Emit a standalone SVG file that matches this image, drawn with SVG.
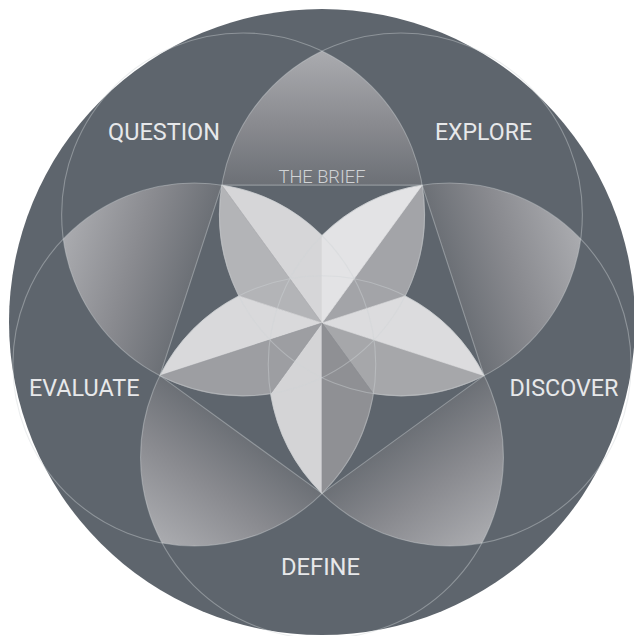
<svg xmlns="http://www.w3.org/2000/svg" width="634" height="636" viewBox="0 0 634 636">
  <defs>
    <style>
      .bg { fill: #5e656d; }
      .lens { fill: url(#lensGrad); }
      .thin { fill: none; stroke: #cfd3d7; stroke-opacity: 0.42; stroke-width: 1.1; }
      .face { stroke-width: 0.6; stroke-linejoin: round; }
      .label { font-family: Roboto, "Liberation Sans", sans-serif; font-size: 24px; font-weight: 400; fill: #e7e8ea; }
      .brief { font-family: Roboto, "Liberation Sans", sans-serif; font-size: 18px; font-weight: 300; fill: #d0d2d5; }
    </style>
    <linearGradient id="lensGrad" x1="0" y1="0" x2="0" y2="1">
      <stop offset="0" stop-color="#aaabaf"/>
      <stop offset="0.55" stop-color="#898a8f"/>
      <stop offset="1" stop-color="#6c7076"/>
    </linearGradient>
    <path id="lensTop" d="M 221.84 185.14 A 181.45 181.45 0 0 1 322 51 A 181.45 181.45 0 0 1 422.16 185.14 Z"/>
    <path id="faceCW" d="M 221.84 185.14 A 181.45 181.45 0 0 1 322 235.6 L 322 323 Z"/>
    <path id="faceCCW" d="M 221.84 185.14 A 181.45 181.45 0 0 0 238.88 295.99 L 322 323 Z"/>
  </defs>

  <g id="outer">
    <circle class="bg" cx="322" cy="322" r="313"/>
  </g>

  <g id="lenses">
    <use href="#lensTop" class="lens"/>
    <use href="#lensTop" class="lens" transform="rotate(72 322 323)"/>
    <use href="#lensTop" class="lens" transform="rotate(144 322 323)"/>
    <use href="#lensTop" class="lens" transform="rotate(216 322 323)"/>
    <use href="#lensTop" class="lens" transform="rotate(288 322 323)"/>
  </g>

  <g id="the-brief-star">
    <use href="#faceCW" class="face" fill="#d6d6d8" stroke="#d6d6d8"/>
    <use href="#faceCCW" class="face" fill="#b3b4b7" stroke="#b3b4b7"/>
    <use href="#faceCW" class="face" fill="#a3a4a8" stroke="#a3a4a8" transform="rotate(72 322 323)"/>
    <use href="#faceCCW" class="face" fill="#e3e3e5" stroke="#e3e3e5" transform="rotate(72 322 323)"/>
    <use href="#faceCW" class="face" fill="#a6a7aa" stroke="#a6a7aa" transform="rotate(144 322 323)"/>
    <use href="#faceCCW" class="face" fill="#dcdcde" stroke="#dcdcde" transform="rotate(144 322 323)"/>
    <use href="#faceCW" class="face" fill="#d4d4d6" stroke="#d4d4d6" transform="rotate(216 322 323)"/>
    <use href="#faceCCW" class="face" fill="#8f9094" stroke="#8f9094" transform="rotate(216 322 323)"/>
    <use href="#faceCW" class="face" fill="#d9d9db" stroke="#d9d9db" transform="rotate(288 322 323)"/>
    <use href="#faceCCW" class="face" fill="#9d9ea2" stroke="#9d9ea2" transform="rotate(288 322 323)"/>
  </g>

  <g id="connectors">
    <circle class="thin" cx="243.08" cy="214.38" r="181.45"/>
    <circle class="thin" cx="400.92" cy="214.38" r="181.45"/>
    <circle class="thin" cx="449.69" cy="364.49" r="181.45"/>
    <circle class="thin" cx="322" cy="457.26" r="181.45"/>
    <circle class="thin" cx="194.31" cy="364.49" r="181.45"/>
    <polygon class="thin" points="221.84,185.14 422.16,185.14 484.06,375.66 322,493.4 159.94,375.66"/>
  </g>

  <g id="question"><text class="label" x="108" y="140" textLength="112" lengthAdjust="spacingAndGlyphs">QUESTION</text></g>
  <g id="explore"><text class="label" x="435" y="139.5" textLength="97" lengthAdjust="spacingAndGlyphs">EXPLORE</text></g>
  <g id="discover"><text class="label" x="509.5" y="395.5" textLength="109" lengthAdjust="spacingAndGlyphs">DISCOVER</text></g>
  <g id="define"><text class="label" x="281" y="575" textLength="79" lengthAdjust="spacingAndGlyphs">DEFINE</text></g>
  <g id="evaluate"><text class="label" x="29" y="395.5" textLength="110.5" lengthAdjust="spacingAndGlyphs">EVALUATE</text></g>
  <g id="brief-label"><text class="brief" x="278.5" y="182.5" textLength="87" lengthAdjust="spacingAndGlyphs">THE BRIEF</text></g>
</svg>
